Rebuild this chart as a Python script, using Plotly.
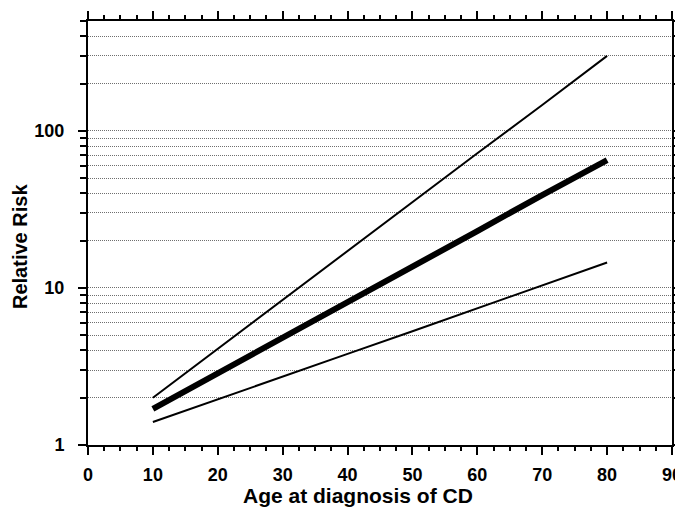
import plotly.graph_objects as go

ages = [10, 20, 30, 40, 50, 60, 70, 80]
rr_mid = [1.7, 2.85, 4.8, 8.1, 13.6, 23, 39, 65]
rr_upper = [2.0, 4.1, 8.4, 17, 35, 72, 146, 300]
rr_lower = [1.4, 1.95, 2.7, 3.8, 5.3, 7.4, 10.3, 14.5]

y_major = [1, 10, 100]
y_minor = [2, 3, 4, 5, 6, 7, 8, 9, 20, 30, 40, 50, 60, 70, 80, 90, 200, 300, 400, 500]
x_ticks = list(range(0, 91, 10))

FAM = "Liberation Sans, Arial, sans-serif"
tick_font = dict(family=FAM, size=18, color="black", weight="bold")
xtitle_font = dict(family=FAM, size=21, color="black", weight="bold")
ytitle_font = dict(family=FAM, size=20, color="black", weight="bold")

fig = go.Figure()
fig.add_trace(go.Scatter(x=ages, y=rr_upper, mode="lines", line=dict(color="black", width=2)))
fig.add_trace(go.Scatter(x=ages, y=rr_lower, mode="lines", line=dict(color="black", width=2)))
fig.add_trace(go.Scatter(x=ages, y=rr_mid, mode="lines", line=dict(color="black", width=6)))

GRID = "#6f6f6f"
# page body has an 8px margin, so the figure is sized/offset to compensate
fig.update_layout(
    width=675, height=507,
    margin=dict(l=80, r=11, t=13, b=70),
    paper_bgcolor="white", plot_bgcolor="white",
    showlegend=False,
    font=tick_font,
    annotations=[
        dict(text="Age at diagnosis of CD", xref="paper", yref="paper",
             x=(358 - 88) / 584, y=-(495 - 445) / 424, showarrow=False,
             xanchor="center", yanchor="middle", font=xtitle_font),
        dict(text="Relative Risk", xref="paper", yref="paper",
             x=-(88 - 20) / 584, y=(445 - 247) / 424, showarrow=False, textangle=-90,
             xanchor="center", yanchor="middle", font=ytitle_font),
    ],
)
fig.update_xaxes(
    range=[0, 90], tickmode="array", tickvals=x_ticks,
    ticks="outside", ticklen=8, tickwidth=2, tickcolor="black",
    showline=True, linewidth=2, linecolor="black", mirror="ticks",
    showgrid=False, zeroline=False, automargin=False,
    ticklabelstandoff=4,
    minor=dict(dtick=2.5, tick0=0, ticks="outside", ticklen=4, tickwidth=2, tickcolor="black", showgrid=False),
    tickfont=tick_font,
)
fig.update_yaxes(
    type="log", range=[0, 2.699],
    tickmode="array", tickvals=y_major, ticktext=[str(v) for v in y_major],
    ticks="outside", ticklen=8, tickwidth=2, tickcolor="black",
    showline=True, linewidth=2, linecolor="black", mirror="ticks",
    showgrid=True, gridcolor=GRID, gridwidth=1, griddash="1px,1px",
    zeroline=False, automargin=False,
    ticklabelstandoff=10,
    minor=dict(tickmode="array", tickvals=y_minor, ticks="outside", ticklen=6, tickwidth=2,
               tickcolor="black", showgrid=True, gridcolor=GRID, gridwidth=1, griddash="1px,1px"),
    tickfont=tick_font,
)

fig.write_html("out.html")
